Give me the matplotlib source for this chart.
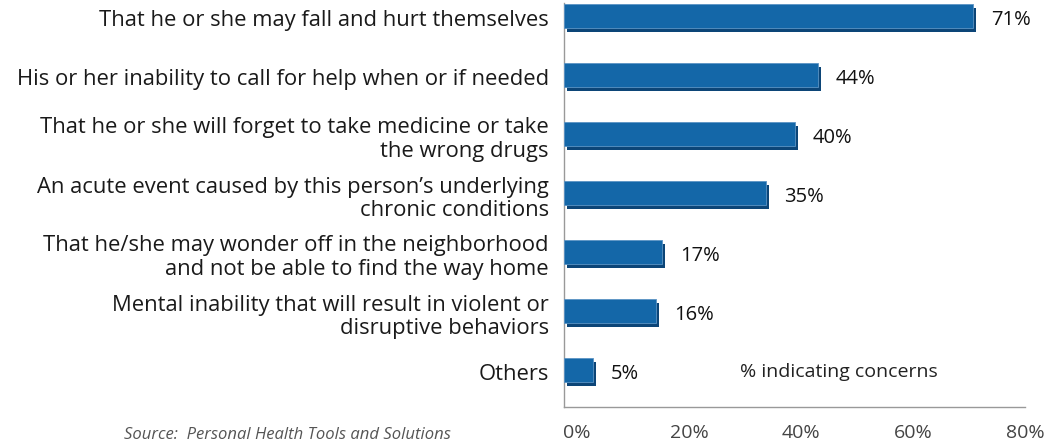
import matplotlib
matplotlib.use("Agg")
import matplotlib.pyplot as plt
from matplotlib.patches import Rectangle
from matplotlib.transforms import ScaledTranslation

categories = [
    "That he or she may fall and hurt themselves",
    "His or her inability to call for help when or if needed",
    "That he or she will forget to take medicine or take\nthe wrong drugs",
    "An acute event caused by this person\u2019s underlying\nchronic conditions",
    "That he/she may wonder off in the neighborhood\nand not be able to find the way home",
    "Mental inability that will result in violent or\ndisruptive behaviors",
    "Others",
]
values = [71, 44, 40, 35, 17, 16, 5]
value_labels = ["71%", "44%", "40%", "35%", "17%", "16%", "5%"]
xticks = [0, 20, 40, 60, 80]
xtick_labels = ["0%", "20%", "40%", "60%", "80%"]

plt.rcParams['font.family'] = ['Open Sans', 'DejaVu Sans']

W, H = 1049, 445
fig = plt.figure(figsize=(W / 100, H / 100), dpi=100)
ax_left, ax_right = 564 / W, 1025 / W
ax_bottom, ax_top = 1 - 407 / H, 1 - 3 / H
ax = fig.add_axes([ax_left, ax_bottom, ax_right - ax_left, ax_top - ax_bottom])

n = len(categories)
ypos = [n - 1 - i for i in range(n)]
px_x = 80 / 461.0
px_y = 1 / 59.0
bh = 24 * px_y
front = "#1467a8"
shade = "#0c4577"
for y, v in zip(ypos, values):
    top = y + 14 * px_y
    # depth (shadow) face
    ax.add_patch(Rectangle((3 * px_x, top - bh - 4 * px_y), v, bh,
                           facecolor=shade, edgecolor="none", zorder=2))
    ax.add_patch(Rectangle((0, top - bh), v, bh,
                           facecolor=front, edgecolor="#5b93c4", linewidth=0.6, zorder=3))

for y, v, lab in zip(ypos, values, value_labels):
    ax.text(v + 18 * px_x, y - 0.04, lab, ha="left", va="center",
            fontsize=14.5, color="#111111")

ax.set_xlim(0, 80)
ax.set_ylim(-35 / 59.0, 369 / 59.0)
ax.set_yticks(ypos)
ax.set_yticklabels(categories, fontsize=15.8, color="#1a1a1a", linespacing=1.15)
ax.set_xticks(xticks)
ax.set_xticklabels(xtick_labels, fontsize=14, color="#444444")
ax.tick_params(axis="y", length=0, pad=11)
ax.tick_params(axis="x", length=0, pad=12)
for i, t in enumerate(ax.get_xticklabels()):
    dx = 13 * (1 - i / 4.0) / 100.0
    t.set_transform(t.get_transform() + ScaledTranslation(dx, 0, fig.dpi_scale_trans))
for s in ["top", "right"]:
    ax.spines[s].set_visible(False)
for s in ["left", "bottom"]:
    ax.spines[s].set_color("#999999")
    ax.spines[s].set_linewidth(1.0)

ax.text(30.5, 0.0, "% indicating concerns", ha="left", va="center",
        fontsize=14, color="#222222")

fig.text(287 / W, 1 - 435 / H, "Source:  Personal Health Tools and Solutions",
         ha="center", va="center", fontsize=12, style="italic", color="#555555")

fig.savefig("out.png", dpi=100)
